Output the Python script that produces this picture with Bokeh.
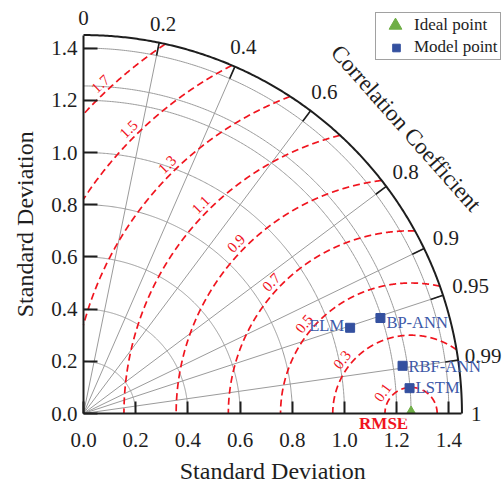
import numpy as np
from bokeh.plotting import figure
from bokeh.models import (Range1d, FixedTicker, PrintfTickFormatter, ColumnDataSource,
                          Legend, LegendItem)
from bokeh.core.properties import value
from bokeh.embed import file_html
from bokeh.resources import INLINE

# ---------------- data ----------------
model_names = ["ELM", "BP-ANN", "RBF-ANN", "LSTM"]
model_std = [1.073, 1.195, 1.236, 1.253]
model_corr = [0.952, 0.952, 0.989, 0.997]
ref_std = 1.255
std_ticks = [0.0, 0.2, 0.4, 0.6, 0.8, 1.0, 1.2, 1.4]
std_arcs = [0.2, 0.4, 0.6, 0.8, 1.0, 1.2, 1.4]
std_max = 1.45
corr_lines = [0.2, 0.4, 0.6, 0.8, 0.9, 0.95, 0.99]
corr_label_values = [0.0, 0.2, 0.4, 0.6, 0.8, 0.9, 0.95, 0.99, 1.0]
corr_labels = ["0", "0.2", "0.4", "0.6", "0.8", "0.9", "0.95", "0.99", "1"]
rmse_levels = [0.1, 0.3, 0.5, 0.7, 0.9, 1.1, 1.3, 1.5, 1.7]

# ---------------- layout / style ----------------
FONT = "Liberation Serif"
W, H = 502, 485
SCALE = 261.0           # pixels per unit of standard deviation
OX, OY = 83, 413        # pixel position of the origin (from left / from top)
rmse_label_deg = [143.6, 142.0, 140.0, 136.8, 135.8, 135.2, 134.4, 134.8, 133.3]
GRAY = "#9b9b9b"
RED = "#f0141e"
BLUE = "#34509f"
BLUE_TXT = "#3d59a8"
GREEN = "#6fae46"
INK = "#1e1e1e"

p = figure(frame_width=W, frame_height=H, output_backend="svg", toolbar_location=None,
           x_range=Range1d(-OX / SCALE, (W - OX) / SCALE),
           y_range=Range1d(-(H - OY) / SCALE, OY / SCALE),
           min_border=0, min_border_left=0, min_border_right=0,
           min_border_top=0, min_border_bottom=0)
p.outline_line_color = None
p.grid.visible = False
p.background_fill_color = "white"
p.border_fill_color = "white"

for ax in (p.xaxis[0], p.yaxis[0]):
    ax.fixed_location = 0
    ax.ticker = FixedTicker(ticks=std_ticks)
    ax.formatter = PrintfTickFormatter(format="%.1f")
    ax.bounds = (0, std_max)
    ax.axis_line_width = 2
    ax.axis_line_color = INK
    ax.major_tick_out = 0
    ax.major_tick_line_width = 2
    ax.major_tick_line_color = INK
    ax.minor_tick_in = 0
    ax.minor_tick_out = 0
    ax.major_label_text_font = FONT
    ax.major_label_text_font_size = "21px"
    ax.major_label_text_color = INK
    ax.axis_label = None
p.xaxis[0].major_tick_in = 12
p.yaxis[0].major_tick_in = 14
p.xaxis[0].major_label_standoff = 19
p.yaxis[0].major_label_standoff = 6

# axis titles (centred on the quadrant's extent)
p.text(x=[std_max / 2], y=[0], text=["Standard Deviation"], y_offset=57,
       text_color=INK, text_font=value(FONT), text_font_size="24px",
       text_align="center", text_baseline="middle")
p.text(x=[0], y=[std_max / 2], text=["Standard Deviation"], x_offset=-59, angle=np.pi / 2,
       text_color=INK, text_font=value(FONT), text_font_size="24px",
       text_align="center", text_baseline="middle")

# std arcs (gray) incl. reference arc
th = np.linspace(0, np.pi / 2, 300)
arc_r = std_arcs + [ref_std]
p.multi_line([list(r * np.cos(th)) for r in arc_r], [list(r * np.sin(th)) for r in arc_r],
             line_color=GRAY, line_width=1)

# radial correlation lines
ang = np.arccos(np.array(corr_lines))
p.multi_line([[0, std_max * np.cos(a)] for a in ang], [[0, std_max * np.sin(a)] for a in ang],
             line_color=GRAY, line_width=1)

# RMSE contours
t = np.linspace(0, np.pi, 4000)
cx, cy = [], []
for rm in rmse_levels:
    x = ref_std + rm * np.cos(t)
    y = rm * np.sin(t)
    m = (x >= 0) & (x ** 2 + y ** 2 <= std_max ** 2)
    cx.append(list(x[m]))
    cy.append(list(y[m]))
p.multi_line(cx, cy, line_color=RED, line_width=1.7, line_dash="7 4")

# RMSE contour labels
la = np.radians(rmse_label_deg)
lr = np.array(rmse_levels) + 0.035
p.text(x=list(ref_std + lr * np.cos(la)), y=list(lr * np.sin(la)),
       text=[f"{v:.1f}" for v in rmse_levels], angle=list(la - np.pi / 2),
       text_color=RED, text_font=value(FONT), text_font_size="15px",
       text_align="center", text_baseline="middle")

# RMSE label under the axis
p.text(x=[1.15], y=[0], y_offset=9.5, text=["RMSE"], text_color=RED,
       text_font=value(FONT), text_font_size="17px", text_font_style="bold",
       text_align="center", text_baseline="middle")

# outer arc
p.line(list(std_max * np.cos(th)), list(std_max * np.sin(th)), line_color=INK, line_width=2)

# correlation tick marks on outer arc
tick_len = 0.05
p.multi_line([[std_max * np.cos(a), (std_max - tick_len) * np.cos(a)] for a in ang],
             [[std_max * np.sin(a), (std_max - tick_len) * np.sin(a)] for a in ang],
             line_color=INK, line_width=1.6)

# correlation labels
lx, ly = [], []
for c, s in zip(corr_label_values, corr_labels):
    a = np.arccos(c)
    w = sum(0.25 if ch == "." else 0.5 for ch in s) * 21
    h = 15
    rp = 1.485 * SCALE + 0.5 * w * abs(np.cos(a)) + 0.5 * h * abs(np.sin(a))
    xpx = min(rp * np.cos(a), (W - 1 - OX) - w / 2)   # keep inside the picture
    lx.append(xpx / SCALE)
    ly.append(rp / SCALE * np.sin(a))
p.text(x=lx, y=ly, text=corr_labels, text_color=INK, text_font=value(FONT),
       text_font_size="21px", text_align="center", text_baseline="middle")

# "Correlation Coefficient" title along the arc
ta = np.radians(41.5)
p.text(x=[1.65 * np.cos(ta)], y=[1.65 * np.sin(ta)], text=["Correlation Coefficient"],
       angle=ta - np.pi / 2, text_color=INK, text_font=value(FONT), text_font_size="23px",
       text_align="center", text_baseline="middle")

# ideal point (lower part hidden under the axis, as in a clipped axes)
ideal_r = p.scatter(x=[ref_std], y=[0.0], marker="triangle", size=13,
                    fill_color=GREEN, line_color=GREEN)
p.quad(left=[ref_std - 0.04], right=[ref_std + 0.04], bottom=[-0.02], top=[0.0],
       fill_color="white", line_color=None)

# model points
mc = np.array(model_corr)
ms = np.array(model_std)
mx = list(ms * mc)
my = list(ms * np.sin(np.arccos(mc)))
src = ColumnDataSource(dict(x=mx, y=my, name=model_names,
                            align=["right" if n == "ELM" else "left" for n in model_names],
                            xo=[-6 if n == "ELM" else 6 for n in model_names],
                            yo=[{"ELM": -2, "BP-ANN": 4, "RBF-ANN": 1, "LSTM": -1}[n] for n in model_names]))
model_r = p.scatter("x", "y", source=src, marker="square", size=9, fill_color=BLUE, line_color=BLUE)
p.text("x", "y", text="name", source=src, text_align="align", text_baseline="middle",
       x_offset="xo", y_offset="yo", text_color=BLUE_TXT, text_font=value(FONT),
       text_font_size="16.5px")

# legend (box with labels), plus a larger triangle drawn over its first glyph
leg = Legend(items=[LegendItem(label="Ideal point", renderers=[ideal_r]),
                    LegendItem(label="Model point", renderers=[model_r])],
             location=(375, 425), padding=2, spacing=2, glyph_width=36, glyph_height=19,
             label_height=19, label_standoff=0, label_text_font=FONT,
             label_text_font_size="17px", label_text_color=INK,
             border_line_color="#444444", border_line_width=1,
             background_fill_color="white", background_fill_alpha=1.0)
p.add_layout(leg)
leg2 = Legend(items=[LegendItem(label=" ", renderers=[ideal_r])],
              location=(377, 444), padding=0, spacing=0, glyph_width=36, glyph_height=32,
              label_height=32, label_standoff=0, label_text_font_size="2px",
              border_line_alpha=0, background_fill_alpha=0)
p.add_layout(leg2)

open("out.html", "w").write(file_html(p, INLINE))
